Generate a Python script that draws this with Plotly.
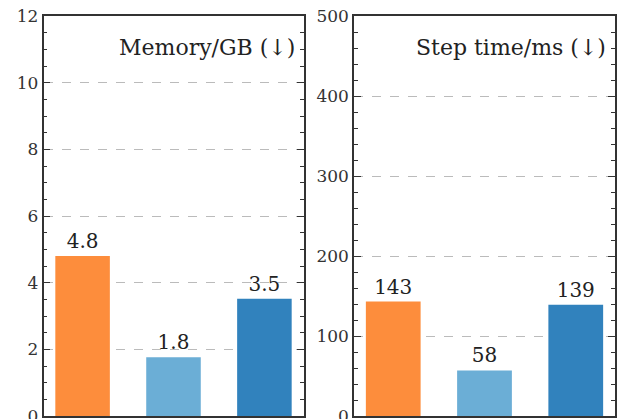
import plotly.graph_objects as go

methods = ["A", "B", "C"]
memory_gb = [4.8, 1.76, 3.52]
step_ms = [143, 57, 139]
mem_labels = ["4.8", "1.8", "3.5"]
step_labels = ["143", "58", "139"]
colors = ["#fd8d3c", "#6baed6", "#3182bd"]
panel_titles = ["Memory/GB (↓)", "Step time/ms (↓)"]

W, H = 627, 419
OFF = 8  # page body margin
font_family = "DejaVu Serif, serif"

fig = go.Figure()
fig.add_trace(go.Bar(x=[0, 1, 2], y=memory_gb, marker_color=colors, width=0.6,
                     text=mem_labels, textposition="outside", cliponaxis=False,
                     textfont=dict(size=20, color="#222", family=font_family),
                     xaxis="x", yaxis="y", marker_line_width=0))
fig.add_trace(go.Bar(x=[0, 1, 2], y=step_ms, marker_color=colors, width=0.6,
                     text=step_labels, textposition="outside", cliponaxis=False,
                     textfont=dict(size=20, color="#222", family=font_family),
                     xaxis="x2", yaxis="y2", marker_line_width=0))

axcol = "#333"
xcommon = dict(range=[-0.43, 2.43], showline=True, linecolor=axcol, linewidth=1.5,
               mirror=True, showticklabels=False, ticks="", showgrid=False, zeroline=False,
               automargin=False)
ycommon = dict(showline=True, linecolor=axcol, linewidth=1.5, mirror=True,
               ticks="inside", ticklen=7, tickwidth=1.2, tickcolor=axcol,
               zeroline=False, automargin=False, ticklabeloverflow="allow",
               tickfont=dict(size=17, color="#333", family=font_family))
grid = dict(showgrid=True, gridcolor="#bbbbbb", griddash="dash", gridwidth=1)
nogrid = dict(showgrid=False, showticklabels=False, side="right")

def xd(a, b):
    return [(a - OFF) / W, (b - OFF) / W]

fig.update_layout(
    width=W, height=H, showlegend=False,
    plot_bgcolor="white", paper_bgcolor="white",
    margin=dict(l=0, r=0, t=15.5 - OFF, b=2.5 + OFF),
    xaxis=dict(domain=xd(43.5, 303.5), anchor="y", **xcommon),
    yaxis=dict(range=[0, 12], dtick=2, anchor="x",
               minor=dict(dtick=0.5, ticks="inside", ticklen=4, tickcolor=axcol, showgrid=False),
               **ycommon, **grid),
    yaxis3=dict(range=[0, 12], dtick=2, anchor="x", overlaying="y",
                minor=dict(dtick=0.5, ticks="inside", ticklen=4, tickcolor=axcol, showgrid=False),
                **ycommon, **nogrid),
    xaxis2=dict(domain=xd(354, 615), anchor="y2", **xcommon),
    yaxis2=dict(range=[0, 500], dtick=100, anchor="x2",
                minor=dict(dtick=20, ticks="inside", ticklen=4, tickcolor=axcol, showgrid=False),
                **ycommon, **grid),
    yaxis4=dict(range=[0, 500], dtick=100, anchor="x2", overlaying="y2",
                minor=dict(dtick=20, ticks="inside", ticklen=4, tickcolor=axcol, showgrid=False),
                **ycommon, **nogrid),
    annotations=[
        dict(text=panel_titles[0], xref="x domain", yref="y domain", x=0.975, y=0.921,
             xanchor="right", yanchor="middle", showarrow=False,
             font=dict(size=22, color="#222", family=font_family)),
        dict(text=panel_titles[1], xref="x2 domain", yref="y2 domain", x=0.975, y=0.921,
             xanchor="right", yanchor="middle", showarrow=False,
             font=dict(size=22, color="#222", family=font_family)),
    ],
)
# invisible traces to activate the mirrored right-hand axes
fig.add_trace(go.Scatter(x=[None], y=[None], xaxis="x", yaxis="y3", showlegend=False, hoverinfo="skip"))
fig.add_trace(go.Scatter(x=[None], y=[None], xaxis="x2", yaxis="y4", showlegend=False, hoverinfo="skip"))

fig.write_html("out.html")
